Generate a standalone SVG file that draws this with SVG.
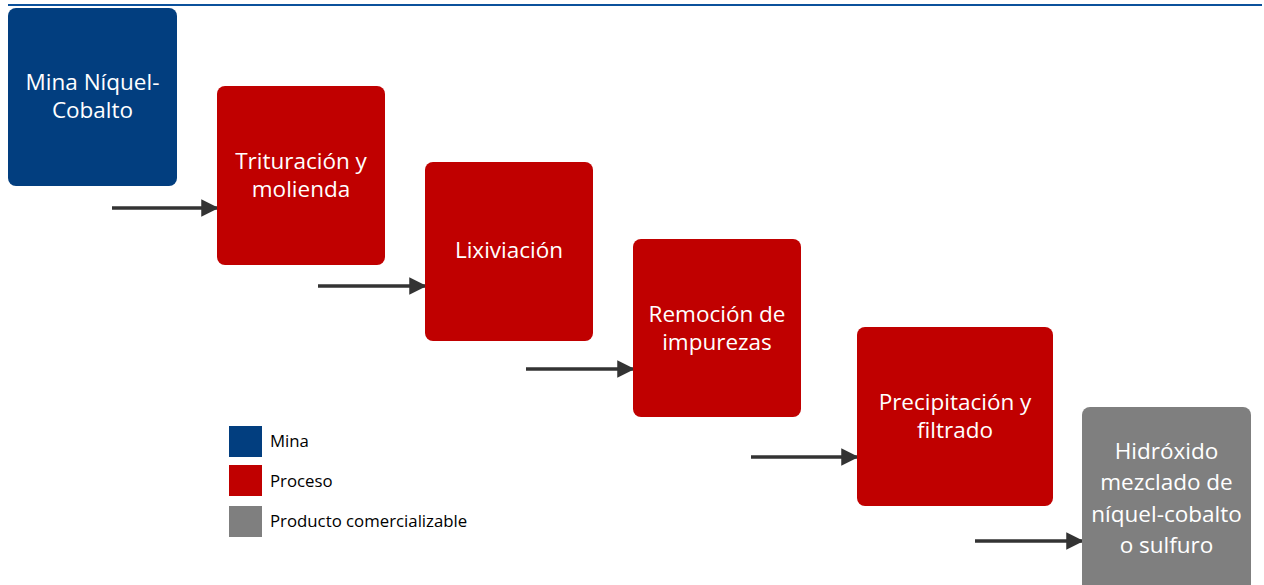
<svg xmlns="http://www.w3.org/2000/svg" width="1264" height="585" viewBox="0 0 1264 585">
<defs>
<style>
.mina{fill:#023E7F}
.proc{fill:#C00000}
.prod{fill:#7F7F7F}
.nt{font-family:"Open Sans","Liberation Sans",sans-serif;font-size:22.5px;fill:#fff;text-anchor:middle}
.lt{font-family:"Open Sans","Liberation Sans",sans-serif;font-size:16.8px;fill:#000}
.conn{stroke:#333;stroke-width:3.5;fill:none;marker-end:url(#ah)}
</style>
<marker id="ah" viewBox="0 0 10 10" refX="9" refY="5" markerWidth="5" markerHeight="6" orient="auto" markerUnits="strokeWidth">
<path d="M0,0 L10,5 L0,10 Z" fill="#333"/>
</marker>
</defs>
<rect width="1264" height="585" fill="#fff"/>
<line x1="8" y1="5" x2="1262" y2="5" stroke="#0B519C" stroke-width="2"/>
<g id="connectors">
<line class="conn" x1="112" y1="208" x2="217" y2="208"/>
<line class="conn" x1="318" y1="286" x2="425" y2="286"/>
<line class="conn" x1="526" y1="369" x2="633" y2="369"/>
<line class="conn" x1="751" y1="457" x2="857" y2="457"/>
<line class="conn" x1="975" y1="541" x2="1082" y2="541"/>
</g>
<g id="n-mina">
<rect class="mina" x="8" y="8" width="169" height="178" rx="8"/>
<text class="nt" x="92.5" y="90">Mina Níquel-</text>
<text class="nt" x="92.5" y="118">Cobalto</text>
</g>
<g id="n-trituracion">
<rect class="proc" x="217" y="86" width="168" height="179" rx="8"/>
<text class="nt" x="301" y="169">Trituración y</text>
<text class="nt" x="301" y="197">molienda</text>
</g>
<g id="n-lixiviacion">
<rect class="proc" x="425" y="162" width="168" height="179" rx="8"/>
<text class="nt" x="509" y="258">Lixiviación</text>
</g>
<g id="n-remocion">
<rect class="proc" x="633" y="239" width="168" height="178" rx="8"/>
<text class="nt" x="717" y="322">Remoción de</text>
<text class="nt" x="717" y="350">impurezas</text>
</g>
<g id="n-precipitacion">
<rect class="proc" x="857" y="327" width="196" height="179" rx="8"/>
<text class="nt" x="955" y="410">Precipitación y</text>
<text class="nt" x="955" y="438">filtrado</text>
</g>
<g id="n-producto">
<rect class="prod" x="1082" y="407" width="169" height="190" rx="8"/>
<text class="nt" x="1166.5" y="459">Hidróxido</text>
<text class="nt" x="1166.5" y="490">mezclado de</text>
<text class="nt" x="1166.5" y="522">níquel-cobalto</text>
<text class="nt" x="1166.5" y="553">o sulfuro</text>
</g>
<g id="legend">
<rect class="mina" x="229" y="426" width="33" height="31"/>
<text class="lt" x="270" y="447">Mina</text>
<rect class="proc" x="229" y="465" width="33" height="31"/>
<text class="lt" x="270" y="487">Proceso</text>
<rect class="prod" x="229" y="506" width="33" height="31"/>
<text class="lt" x="270" y="527">Producto comercializable</text>
</g>
</svg>
